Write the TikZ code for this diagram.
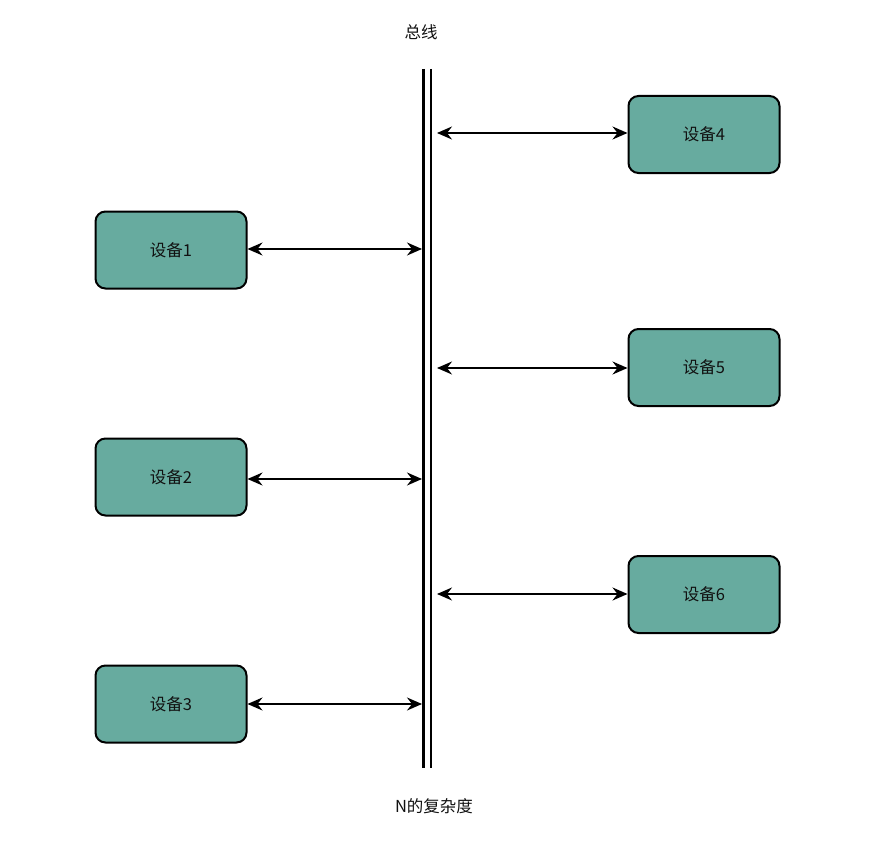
\documentclass[tikz,border=0pt]{standalone}
\usepackage{fontspec}
\setmainfont{Noto Sans CJK SC}
\usetikzlibrary{arrows.meta}
\definecolor{devfill}{HTML}{67AB9F}
\definecolor{txt}{HTML}{111111}
\begin{document}
\begin{tikzpicture}[x=1pt,y=-1pt,
  dev/.style={draw=black,line width=2pt,fill=devfill,rounded corners=10pt,
    minimum width=151pt,minimum height=77pt,inner sep=0pt,text=txt,font=\fontsize{16.5}{18}\selectfont},
  link/.style={line width=1.8pt,{Stealth[length=15pt,width=13pt,inset=5pt]}-{Stealth[length=15pt,width=13pt,inset=5pt]}},
  busline/.style={line width=2.2pt},
  lbl/.style={font=\fontsize{16.5}{18}\selectfont,text=txt,inner sep=0pt}]
\useasboundingbox (0,0) rectangle (887,851);
\fill[white] (0,0) rectangle (887,851);
% bus
\coordinate (bl1) at (423.5,69);
\coordinate (bl2) at (423.5,768);
\coordinate (br1) at (431,69);
\coordinate (br2) at (431,768);
\draw[busline] (bl1) -- (bl2);
\draw[busline] (br1) -- (br2);
\node[lbl] (title) at (421,32) {总线};
\node[lbl] (cap) at (434,806) {N的复杂度};
% devices
\node[dev] (d1) at (171,250) {设备1};
\node[dev] (d2) at (171,477) {设备2};
\node[dev] (d3) at (171,704) {设备3};
\node[dev] (d4) at (704,134.5) {设备4};
\node[dev] (d5) at (704,367.5) {设备5};
\node[dev] (d6) at (704,594.5) {设备6};
% bus attach points
\coordinate (a1) at (422,249);
\coordinate (a2) at (422,479);
\coordinate (a3) at (422,704);
\coordinate (a4) at (437,133);
\coordinate (a5) at (437,368);
\coordinate (a6) at (437,594);
\draw[link] (d1.east |- a1) -- (a1);
\draw[link] (d2.east |- a2) -- (a2);
\draw[link] (d3.east |- a3) -- (a3);
\draw[link] (a4) -- (d4.west |- a4);
\draw[link] (a5) -- (d5.west |- a5);
\draw[link] (a6) -- (d6.west |- a6);
\end{tikzpicture}
\end{document}
